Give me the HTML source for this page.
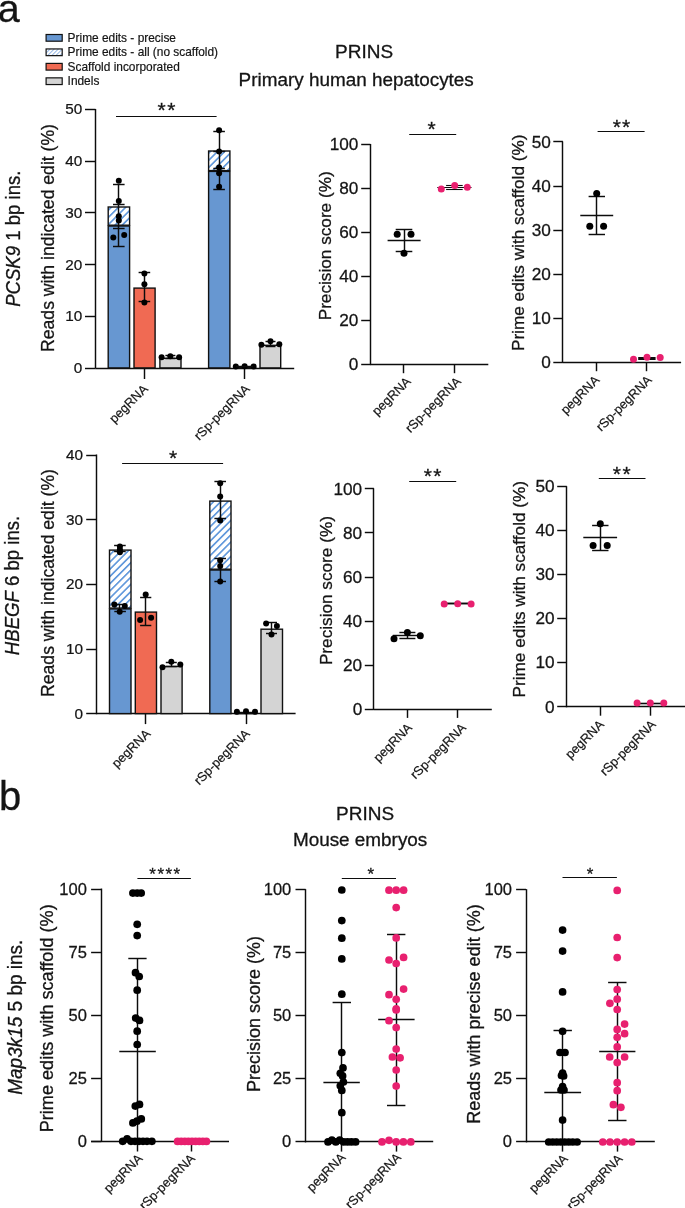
<!DOCTYPE html>
<html><head><meta charset="utf-8"><title>PRINS figure</title>
<style>
html,body{margin:0;padding:0;background:#fff;}
body{width:685px;height:1208px;overflow:hidden;font-family:"Liberation Sans", sans-serif;}
svg{display:block;}
</style></head><body>
<svg width="685" height="1208" viewBox="0 0 685 1208" font-family='"Liberation Sans", sans-serif' fill="#141414">
<defs><pattern id="hatch" patternUnits="userSpaceOnUse" width="5.1" height="5.1" patternTransform="rotate(45)"><rect width="5.1" height="5.1" fill="#fff"/><rect x="0" y="0" width="1.65" height="5.1" fill="#5f97db"/></pattern><pattern id="hatch2" patternUnits="userSpaceOnUse" width="2.9" height="2.9" patternTransform="rotate(45)"><rect width="2.9" height="2.9" fill="#fff"/><rect x="0" y="0" width="0.9" height="2.9" fill="#8db3e6"/></pattern></defs>
<rect width="685" height="1208" fill="#fff"/>
<rect x="46.1" y="34.5" width="16.1" height="6.7" fill="#6797d1" stroke="#111" stroke-width="1.2"/>
<rect x="46.1" y="48.95" width="16.1" height="6.7" fill="url(#hatch2)" stroke="#111" stroke-width="1.2"/>
<rect x="46.1" y="63.4" width="16.1" height="6.7" fill="#f06a53" stroke="#111" stroke-width="1.2"/>
<rect x="46.1" y="77.85" width="16.1" height="6.7" fill="#d4d4d4" stroke="#111" stroke-width="1.2"/>
<line x1="95.5" y1="108.9" x2="95.5" y2="368.5" stroke="#0c0c0c" stroke-width="1.45"/>
<line x1="85" y1="368.5" x2="95.5" y2="368.5" stroke="#0c0c0c" stroke-width="1.45"/>
<line x1="85" y1="316.5" x2="95.5" y2="316.5" stroke="#0c0c0c" stroke-width="1.45"/>
<line x1="85" y1="264.5" x2="95.5" y2="264.5" stroke="#0c0c0c" stroke-width="1.45"/>
<line x1="85" y1="212.5" x2="95.5" y2="212.5" stroke="#0c0c0c" stroke-width="1.45"/>
<line x1="85" y1="161.5" x2="95.5" y2="161.5" stroke="#0c0c0c" stroke-width="1.45"/>
<line x1="85" y1="109.5" x2="95.5" y2="109.5" stroke="#0c0c0c" stroke-width="1.45"/>
<line x1="95.5" y1="368.5" x2="294.2" y2="368.5" stroke="#0c0c0c" stroke-width="1.45"/>
<line x1="144.5" y1="368" x2="144.5" y2="379" stroke="#0c0c0c" stroke-width="1.45"/>
<line x1="244.5" y1="368" x2="244.5" y2="379" stroke="#0c0c0c" stroke-width="1.45"/>
<rect x="108.2" y="226" width="21.4" height="141.9" fill="#6797d1" stroke="#111" stroke-width="1.4"/>
<rect x="134" y="288.1" width="21.1" height="79.8" fill="#f06a53" stroke="#111" stroke-width="1.4"/>
<rect x="159.9" y="358.3" width="21.1" height="9.6" fill="#d4d4d4" stroke="#111" stroke-width="1.4"/>
<rect x="208.6" y="171.4" width="21.3" height="196.5" fill="#6797d1" stroke="#111" stroke-width="1.4"/>
<rect x="234.4" y="367.5" width="21.1" height="0.4" fill="#f06a53" stroke="#111" stroke-width="1.4"/>
<rect x="260" y="345.3" width="20.7" height="22.6" fill="#d4d4d4" stroke="#111" stroke-width="1.4"/>
<rect x="108.2" y="207" width="21.4" height="18.2" fill="url(#hatch)" stroke="#111" stroke-width="1.4"/>
<rect x="208.6" y="151" width="21.3" height="19.6" fill="url(#hatch)" stroke="#111" stroke-width="1.4"/>
<line x1="118.5" y1="184.3" x2="118.5" y2="228" stroke="#0c0c0c" stroke-width="1.45"/>
<line x1="113" y1="184.5" x2="124.6" y2="184.5" stroke="#0c0c0c" stroke-width="1.45"/>
<line x1="113" y1="228.5" x2="124.6" y2="228.5" stroke="#0c0c0c" stroke-width="1.45"/>
<line x1="113" y1="204.5" x2="124.6" y2="204.5" stroke="#0c0c0c" stroke-width="1.45"/>
<line x1="113" y1="246.5" x2="124.6" y2="246.5" stroke="#0c0c0c" stroke-width="1.45"/>
<line x1="118.5" y1="228" x2="118.5" y2="246.2" stroke="#0c0c0c" stroke-width="1.45"/>
<circle cx="118.8" cy="180.7" r="3" fill="#000000"/>
<circle cx="118.8" cy="201" r="3" fill="#000000"/>
<circle cx="118.8" cy="216.3" r="3" fill="#000000"/>
<circle cx="118.8" cy="220.6" r="3" fill="#000000"/>
<circle cx="113.3" cy="237.4" r="3" fill="#000000"/>
<circle cx="124.2" cy="235.1" r="3" fill="#000000"/>
<line x1="144.5" y1="272.6" x2="144.5" y2="301.2" stroke="#0c0c0c" stroke-width="1.45"/>
<line x1="138.6" y1="272.5" x2="150.2" y2="272.5" stroke="#0c0c0c" stroke-width="1.45"/>
<line x1="138.6" y1="301.5" x2="150.2" y2="301.5" stroke="#0c0c0c" stroke-width="1.45"/>
<circle cx="144.4" cy="273.4" r="3" fill="#000000"/>
<circle cx="144.4" cy="284.2" r="3" fill="#000000"/>
<circle cx="144.4" cy="302.6" r="3" fill="#000000"/>
<line x1="170.5" y1="355.8" x2="170.5" y2="358.6" stroke="#0c0c0c" stroke-width="1.45"/>
<line x1="165.4" y1="355.5" x2="175.4" y2="355.5" stroke="#0c0c0c" stroke-width="1.45"/>
<line x1="165.4" y1="358.5" x2="175.4" y2="358.5" stroke="#0c0c0c" stroke-width="1.45"/>
<circle cx="161.6" cy="357.3" r="3" fill="#000000"/>
<circle cx="170.3" cy="356.3" r="3" fill="#000000"/>
<circle cx="179.1" cy="357.3" r="3" fill="#000000"/>
<line x1="219.5" y1="131.7" x2="219.5" y2="189" stroke="#0c0c0c" stroke-width="1.45"/>
<line x1="213.3" y1="131.5" x2="224.9" y2="131.5" stroke="#0c0c0c" stroke-width="1.45"/>
<line x1="213.3" y1="189.5" x2="224.9" y2="189.5" stroke="#0c0c0c" stroke-width="1.45"/>
<line x1="213.3" y1="151.5" x2="224.9" y2="151.5" stroke="#0c0c0c" stroke-width="1.45"/>
<line x1="213.3" y1="168.5" x2="224.9" y2="168.5" stroke="#0c0c0c" stroke-width="1.45"/>
<circle cx="219.1" cy="130.2" r="3" fill="#000000"/>
<circle cx="219.1" cy="151.4" r="3" fill="#000000"/>
<circle cx="219.1" cy="167.4" r="3" fill="#000000"/>
<circle cx="219.1" cy="173.3" r="3" fill="#000000"/>
<circle cx="219.1" cy="186.8" r="3" fill="#000000"/>
<circle cx="235.8" cy="366.4" r="3" fill="#000000"/>
<circle cx="244.6" cy="366.2" r="3" fill="#000000"/>
<circle cx="253.6" cy="366.4" r="3" fill="#000000"/>
<line x1="236" y1="366.5" x2="253" y2="366.5" stroke="#0c0c0c" stroke-width="1.45"/>
<line x1="270.5" y1="341.3" x2="270.5" y2="346" stroke="#0c0c0c" stroke-width="1.45"/>
<line x1="265.5" y1="341.5" x2="275.5" y2="341.5" stroke="#0c0c0c" stroke-width="1.45"/>
<line x1="265.5" y1="346.5" x2="275.5" y2="346.5" stroke="#0c0c0c" stroke-width="1.45"/>
<circle cx="261.4" cy="344.7" r="3" fill="#000000"/>
<circle cx="270.5" cy="341.3" r="3" fill="#000000"/>
<circle cx="279.3" cy="344.3" r="3" fill="#000000"/>
<line x1="116" y1="116.5" x2="216.6" y2="116.5" stroke="#0c0c0c" stroke-width="1.2"/>
<line x1="96.5" y1="454.52" x2="96.5" y2="714.2" stroke="#0c0c0c" stroke-width="1.45"/>
<line x1="86.2" y1="713.5" x2="96.6" y2="713.5" stroke="#0c0c0c" stroke-width="1.45"/>
<line x1="86.2" y1="649.5" x2="96.6" y2="649.5" stroke="#0c0c0c" stroke-width="1.45"/>
<line x1="86.2" y1="584.5" x2="96.6" y2="584.5" stroke="#0c0c0c" stroke-width="1.45"/>
<line x1="86.2" y1="519.5" x2="96.6" y2="519.5" stroke="#0c0c0c" stroke-width="1.45"/>
<line x1="86.2" y1="455.5" x2="96.6" y2="455.5" stroke="#0c0c0c" stroke-width="1.45"/>
<line x1="96.6" y1="713.5" x2="295.6" y2="713.5" stroke="#0c0c0c" stroke-width="1.45"/>
<line x1="145.5" y1="713.7" x2="145.5" y2="724.1" stroke="#0c0c0c" stroke-width="1.45"/>
<line x1="246.5" y1="713.7" x2="246.5" y2="724.1" stroke="#0c0c0c" stroke-width="1.45"/>
<rect x="109.5" y="608.9" width="21.5" height="104.7" fill="#6797d1" stroke="#111" stroke-width="1.4"/>
<rect x="135.3" y="612.1" width="21.2" height="101.5" fill="#f06a53" stroke="#111" stroke-width="1.4"/>
<rect x="161" y="666.5" width="21.1" height="47.1" fill="#d4d4d4" stroke="#111" stroke-width="1.4"/>
<rect x="209.8" y="570" width="21.2" height="143.6" fill="#6797d1" stroke="#111" stroke-width="1.4"/>
<rect x="235.2" y="713.1" width="21.4" height="0.5" fill="#f06a53" stroke="#111" stroke-width="1.4"/>
<rect x="261" y="629.2" width="21.5" height="84.4" fill="#d4d4d4" stroke="#111" stroke-width="1.4"/>
<rect x="109.5" y="550.1" width="21.5" height="58" fill="url(#hatch)" stroke="#111" stroke-width="1.4"/>
<rect x="209.8" y="501.1" width="21.2" height="68.1" fill="url(#hatch)" stroke="#111" stroke-width="1.4"/>
<line x1="119.5" y1="545.4" x2="119.5" y2="551.6" stroke="#0c0c0c" stroke-width="1.45"/>
<line x1="114.1" y1="545.5" x2="125.7" y2="545.5" stroke="#0c0c0c" stroke-width="1.45"/>
<line x1="114.1" y1="551.5" x2="125.7" y2="551.5" stroke="#0c0c0c" stroke-width="1.45"/>
<circle cx="119.9" cy="546.6" r="3" fill="#000000"/>
<circle cx="119.9" cy="549.4" r="3" fill="#000000"/>
<circle cx="119.9" cy="552.2" r="3" fill="#000000"/>
<line x1="119.5" y1="604" x2="119.5" y2="611.1" stroke="#0c0c0c" stroke-width="1.45"/>
<line x1="114.3" y1="611.5" x2="125.9" y2="611.5" stroke="#0c0c0c" stroke-width="1.45"/>
<line x1="114.3" y1="604.5" x2="125.9" y2="604.5" stroke="#0c0c0c" stroke-width="1.45"/>
<circle cx="114.3" cy="604.5" r="3" fill="#000000"/>
<circle cx="124.8" cy="606" r="3" fill="#000000"/>
<circle cx="119.7" cy="611.8" r="3" fill="#000000"/>
<line x1="145.5" y1="597.2" x2="145.5" y2="625" stroke="#0c0c0c" stroke-width="1.45"/>
<line x1="140.1" y1="597.5" x2="151.3" y2="597.5" stroke="#0c0c0c" stroke-width="1.45"/>
<line x1="140.1" y1="625.5" x2="151.3" y2="625.5" stroke="#0c0c0c" stroke-width="1.45"/>
<circle cx="145.7" cy="594.6" r="3" fill="#000000"/>
<circle cx="140.1" cy="620.1" r="3" fill="#000000"/>
<circle cx="151.1" cy="617.7" r="3" fill="#000000"/>
<line x1="171.5" y1="662.5" x2="171.5" y2="666.9" stroke="#0c0c0c" stroke-width="1.45"/>
<line x1="165.8" y1="662.5" x2="176.8" y2="662.5" stroke="#0c0c0c" stroke-width="1.45"/>
<line x1="165.8" y1="666.5" x2="176.8" y2="666.5" stroke="#0c0c0c" stroke-width="1.45"/>
<circle cx="162.5" cy="667.3" r="3" fill="#000000"/>
<circle cx="171.3" cy="661.8" r="3" fill="#000000"/>
<circle cx="180.3" cy="664.4" r="3" fill="#000000"/>
<line x1="220.5" y1="481.2" x2="220.5" y2="518.6" stroke="#0c0c0c" stroke-width="1.45"/>
<line x1="214.4" y1="481.5" x2="226" y2="481.5" stroke="#0c0c0c" stroke-width="1.45"/>
<line x1="214.4" y1="518.5" x2="226" y2="518.5" stroke="#0c0c0c" stroke-width="1.45"/>
<circle cx="220.2" cy="483.2" r="3" fill="#000000"/>
<circle cx="220.2" cy="496.4" r="3" fill="#000000"/>
<circle cx="220.2" cy="520.6" r="3" fill="#000000"/>
<line x1="220.5" y1="558.2" x2="220.5" y2="581" stroke="#0c0c0c" stroke-width="1.45"/>
<line x1="214.4" y1="558.5" x2="226" y2="558.5" stroke="#0c0c0c" stroke-width="1.45"/>
<line x1="214.4" y1="581.5" x2="226" y2="581.5" stroke="#0c0c0c" stroke-width="1.45"/>
<circle cx="220.2" cy="560.3" r="3" fill="#000000"/>
<circle cx="220.2" cy="566.1" r="3" fill="#000000"/>
<circle cx="220.2" cy="581.6" r="3" fill="#000000"/>
<line x1="237" y1="712.5" x2="255" y2="712.5" stroke="#0c0c0c" stroke-width="1.45"/>
<circle cx="236.9" cy="711.7" r="3" fill="#000000"/>
<circle cx="246" cy="711.3" r="3" fill="#000000"/>
<circle cx="255" cy="711.7" r="3" fill="#000000"/>
<line x1="271.5" y1="622.3" x2="271.5" y2="633.9" stroke="#0c0c0c" stroke-width="1.45"/>
<line x1="266" y1="622.5" x2="277" y2="622.5" stroke="#0c0c0c" stroke-width="1.45"/>
<line x1="266" y1="633.5" x2="277" y2="633.5" stroke="#0c0c0c" stroke-width="1.45"/>
<circle cx="266.1" cy="623.4" r="3" fill="#000000"/>
<circle cx="276.9" cy="626" r="3" fill="#000000"/>
<circle cx="271.5" cy="634.6" r="3" fill="#000000"/>
<line x1="122.1" y1="463.5" x2="223.1" y2="463.5" stroke="#0c0c0c" stroke-width="1.2"/>
<line x1="370.5" y1="143.9" x2="370.5" y2="365.1" stroke="#0c0c0c" stroke-width="1.45"/>
<line x1="361.2" y1="364.5" x2="370" y2="364.5" stroke="#0c0c0c" stroke-width="1.45"/>
<line x1="361.2" y1="320.5" x2="370" y2="320.5" stroke="#0c0c0c" stroke-width="1.45"/>
<line x1="361.2" y1="276.5" x2="370" y2="276.5" stroke="#0c0c0c" stroke-width="1.45"/>
<line x1="361.2" y1="232.5" x2="370" y2="232.5" stroke="#0c0c0c" stroke-width="1.45"/>
<line x1="361.2" y1="188.5" x2="370" y2="188.5" stroke="#0c0c0c" stroke-width="1.45"/>
<line x1="361.2" y1="144.5" x2="370" y2="144.5" stroke="#0c0c0c" stroke-width="1.45"/>
<line x1="370" y1="364.5" x2="488.3" y2="364.5" stroke="#0c0c0c" stroke-width="1.45"/>
<line x1="403.5" y1="364.6" x2="403.5" y2="373.2" stroke="#0c0c0c" stroke-width="1.45"/>
<line x1="454.5" y1="364.6" x2="454.5" y2="373.2" stroke="#0c0c0c" stroke-width="1.45"/>
<line x1="387.6" y1="240.5" x2="420.6" y2="240.5" stroke="#0c0c0c" stroke-width="1.45"/>
<line x1="404.5" y1="229.6" x2="404.5" y2="251.8" stroke="#0c0c0c" stroke-width="1.45"/>
<line x1="395.7" y1="229.5" x2="412.3" y2="229.5" stroke="#0c0c0c" stroke-width="1.45"/>
<line x1="395.7" y1="251.5" x2="412.3" y2="251.5" stroke="#0c0c0c" stroke-width="1.45"/>
<circle cx="397.2" cy="234.3" r="3.5" fill="#000000"/>
<circle cx="411" cy="234.3" r="3.5" fill="#000000"/>
<circle cx="404" cy="253.3" r="3.5" fill="#000000"/>
<line x1="437.3" y1="187.5" x2="471.5" y2="187.5" stroke="#0c0c0c" stroke-width="1.1"/>
<line x1="446.1" y1="185.5" x2="462.7" y2="185.5" stroke="#0c0c0c" stroke-width="1.1"/>
<line x1="446.1" y1="189.5" x2="462.7" y2="189.5" stroke="#0c0c0c" stroke-width="1.1"/>
<circle cx="441.3" cy="189" r="3.5" fill="#e8206f"/>
<circle cx="454.7" cy="185.5" r="3.5" fill="#e8206f"/>
<circle cx="467.3" cy="187.3" r="3.5" fill="#e8206f"/>
<line x1="409.2" y1="134.5" x2="456.2" y2="134.5" stroke="#0c0c0c" stroke-width="1.2"/>
<line x1="562.5" y1="141.45" x2="562.5" y2="362.8" stroke="#0c0c0c" stroke-width="1.45"/>
<line x1="553.3" y1="362.5" x2="562.9" y2="362.5" stroke="#0c0c0c" stroke-width="1.45"/>
<line x1="553.3" y1="318.5" x2="562.9" y2="318.5" stroke="#0c0c0c" stroke-width="1.45"/>
<line x1="553.3" y1="274.5" x2="562.9" y2="274.5" stroke="#0c0c0c" stroke-width="1.45"/>
<line x1="553.3" y1="230.5" x2="562.9" y2="230.5" stroke="#0c0c0c" stroke-width="1.45"/>
<line x1="553.3" y1="186.5" x2="562.9" y2="186.5" stroke="#0c0c0c" stroke-width="1.45"/>
<line x1="553.3" y1="141.5" x2="562.9" y2="141.5" stroke="#0c0c0c" stroke-width="1.45"/>
<line x1="562.9" y1="362.5" x2="681.1" y2="362.5" stroke="#0c0c0c" stroke-width="1.45"/>
<line x1="596.5" y1="362.3" x2="596.5" y2="371.2" stroke="#0c0c0c" stroke-width="1.45"/>
<line x1="646.5" y1="362.3" x2="646.5" y2="371.2" stroke="#0c0c0c" stroke-width="1.45"/>
<line x1="580.3" y1="215.5" x2="613.2" y2="215.5" stroke="#0c0c0c" stroke-width="1.45"/>
<line x1="596.5" y1="196.4" x2="596.5" y2="234.4" stroke="#0c0c0c" stroke-width="1.45"/>
<line x1="588.6" y1="196.5" x2="605" y2="196.5" stroke="#0c0c0c" stroke-width="1.45"/>
<line x1="588.6" y1="234.5" x2="605" y2="234.5" stroke="#0c0c0c" stroke-width="1.45"/>
<circle cx="596.7" cy="193.4" r="3.5" fill="#000000"/>
<circle cx="589.8" cy="226.3" r="3.5" fill="#000000"/>
<circle cx="603.6" cy="226.3" r="3.5" fill="#000000"/>
<line x1="638.2" y1="357.5" x2="655.6" y2="357.5" stroke="#0c0c0c" stroke-width="1"/>
<line x1="638.2" y1="358.5" x2="655.6" y2="358.5" stroke="#0c0c0c" stroke-width="1"/>
<line x1="638.2" y1="359.5" x2="655.6" y2="359.5" stroke="#0c0c0c" stroke-width="1"/>
<circle cx="633.5" cy="359.2" r="3.5" fill="#e8206f"/>
<circle cx="647" cy="357.2" r="3.5" fill="#e8206f"/>
<circle cx="660.2" cy="357.5" r="3.5" fill="#e8206f"/>
<line x1="597.6" y1="131.5" x2="644.6" y2="131.5" stroke="#0c0c0c" stroke-width="1.2"/>
<line x1="373.5" y1="488.3" x2="373.5" y2="709.9" stroke="#0c0c0c" stroke-width="1.45"/>
<line x1="364.8" y1="709.5" x2="373.9" y2="709.5" stroke="#0c0c0c" stroke-width="1.45"/>
<line x1="364.8" y1="665.5" x2="373.9" y2="665.5" stroke="#0c0c0c" stroke-width="1.45"/>
<line x1="364.8" y1="621.5" x2="373.9" y2="621.5" stroke="#0c0c0c" stroke-width="1.45"/>
<line x1="364.8" y1="577.5" x2="373.9" y2="577.5" stroke="#0c0c0c" stroke-width="1.45"/>
<line x1="364.8" y1="532.5" x2="373.9" y2="532.5" stroke="#0c0c0c" stroke-width="1.45"/>
<line x1="364.8" y1="488.5" x2="373.9" y2="488.5" stroke="#0c0c0c" stroke-width="1.45"/>
<line x1="373.9" y1="709.5" x2="491.8" y2="709.5" stroke="#0c0c0c" stroke-width="1.45"/>
<line x1="407.5" y1="709.4" x2="407.5" y2="717.9" stroke="#0c0c0c" stroke-width="1.45"/>
<line x1="457.5" y1="709.4" x2="457.5" y2="717.9" stroke="#0c0c0c" stroke-width="1.45"/>
<line x1="392.8" y1="635.5" x2="422.6" y2="635.5" stroke="#0c0c0c" stroke-width="1.45"/>
<line x1="407.5" y1="632.9" x2="407.5" y2="638.2" stroke="#0c0c0c" stroke-width="1.45"/>
<line x1="399.4" y1="632.5" x2="415.4" y2="632.5" stroke="#0c0c0c" stroke-width="1.45"/>
<line x1="399.4" y1="638.5" x2="415.4" y2="638.5" stroke="#0c0c0c" stroke-width="1.45"/>
<circle cx="394" cy="638.8" r="3.5" fill="#000000"/>
<circle cx="407.4" cy="632.6" r="3.5" fill="#000000"/>
<circle cx="420.3" cy="635.8" r="3.5" fill="#000000"/>
<line x1="446" y1="603.5" x2="469" y2="603.5" stroke="#0c0c0c" stroke-width="1.9"/>
<circle cx="444.2" cy="604" r="3.5" fill="#e8206f"/>
<circle cx="457.7" cy="603.8" r="3.5" fill="#e8206f"/>
<circle cx="471.1" cy="604" r="3.5" fill="#e8206f"/>
<line x1="409.2" y1="481.5" x2="456.2" y2="481.5" stroke="#0c0c0c" stroke-width="1.2"/>
<line x1="566.5" y1="486.2" x2="566.5" y2="707.3" stroke="#0c0c0c" stroke-width="1.45"/>
<line x1="557.2" y1="706.5" x2="566.8" y2="706.5" stroke="#0c0c0c" stroke-width="1.45"/>
<line x1="557.2" y1="662.5" x2="566.8" y2="662.5" stroke="#0c0c0c" stroke-width="1.45"/>
<line x1="557.2" y1="618.5" x2="566.8" y2="618.5" stroke="#0c0c0c" stroke-width="1.45"/>
<line x1="557.2" y1="574.5" x2="566.8" y2="574.5" stroke="#0c0c0c" stroke-width="1.45"/>
<line x1="557.2" y1="530.5" x2="566.8" y2="530.5" stroke="#0c0c0c" stroke-width="1.45"/>
<line x1="557.2" y1="486.5" x2="566.8" y2="486.5" stroke="#0c0c0c" stroke-width="1.45"/>
<line x1="566.8" y1="706.5" x2="686" y2="706.5" stroke="#0c0c0c" stroke-width="1.45"/>
<line x1="600.5" y1="706.8" x2="600.5" y2="715.7" stroke="#0c0c0c" stroke-width="1.45"/>
<line x1="650.5" y1="706.8" x2="650.5" y2="715.7" stroke="#0c0c0c" stroke-width="1.45"/>
<line x1="583.3" y1="537.5" x2="617.1" y2="537.5" stroke="#0c0c0c" stroke-width="1.45"/>
<line x1="600.5" y1="525.9" x2="600.5" y2="550.7" stroke="#0c0c0c" stroke-width="1.45"/>
<line x1="592.1" y1="525.5" x2="608.5" y2="525.5" stroke="#0c0c0c" stroke-width="1.45"/>
<line x1="592.1" y1="550.5" x2="608.5" y2="550.5" stroke="#0c0c0c" stroke-width="1.45"/>
<circle cx="600.3" cy="523.8" r="3.5" fill="#000000"/>
<circle cx="593.1" cy="545.4" r="3.5" fill="#000000"/>
<circle cx="607.2" cy="545.4" r="3.5" fill="#000000"/>
<line x1="640" y1="703.5" x2="661" y2="703.5" stroke="#0c0c0c" stroke-width="1.6"/>
<circle cx="637.1" cy="703.1" r="3.5" fill="#e8206f"/>
<circle cx="650.3" cy="703" r="3.5" fill="#e8206f"/>
<circle cx="663.8" cy="703.1" r="3.5" fill="#e8206f"/>
<line x1="598.8" y1="478.5" x2="645.5" y2="478.5" stroke="#0c0c0c" stroke-width="1.2"/>
<line x1="101.5" y1="888.55" x2="101.5" y2="1142" stroke="#0c0c0c" stroke-width="1.45"/>
<line x1="91.1" y1="1141.5" x2="101.4" y2="1141.5" stroke="#0c0c0c" stroke-width="1.45"/>
<line x1="91.1" y1="1078.5" x2="101.4" y2="1078.5" stroke="#0c0c0c" stroke-width="1.45"/>
<line x1="91.1" y1="1015.5" x2="101.4" y2="1015.5" stroke="#0c0c0c" stroke-width="1.45"/>
<line x1="91.1" y1="952.5" x2="101.4" y2="952.5" stroke="#0c0c0c" stroke-width="1.45"/>
<line x1="91.1" y1="889.5" x2="101.4" y2="889.5" stroke="#0c0c0c" stroke-width="1.45"/>
<line x1="101.4" y1="1141.5" x2="229" y2="1141.5" stroke="#0c0c0c" stroke-width="1.45"/>
<line x1="137.5" y1="1141.5" x2="137.5" y2="1151.5" stroke="#0c0c0c" stroke-width="1.45"/>
<line x1="191.5" y1="1141.5" x2="191.5" y2="1151.5" stroke="#0c0c0c" stroke-width="1.45"/>
<line x1="137.5" y1="958.8" x2="137.5" y2="1141.5" stroke="#0c0c0c" stroke-width="1.45"/>
<line x1="128.3" y1="958.5" x2="146.6" y2="958.5" stroke="#0c0c0c" stroke-width="1.45"/>
<line x1="119.3" y1="1051.5" x2="155.8" y2="1051.5" stroke="#0c0c0c" stroke-width="1.45"/>
<circle cx="132.9" cy="893.1" r="3.85" fill="#000000"/>
<circle cx="137.2" cy="893.1" r="3.85" fill="#000000"/>
<circle cx="141.2" cy="893.1" r="3.85" fill="#000000"/>
<circle cx="137.2" cy="924.3" r="3.85" fill="#000000"/>
<circle cx="137.2" cy="935.6" r="3.85" fill="#000000"/>
<circle cx="135.5" cy="972.7" r="3.85" fill="#000000"/>
<circle cx="139.2" cy="976.5" r="3.85" fill="#000000"/>
<circle cx="137.2" cy="990.2" r="3.85" fill="#000000"/>
<circle cx="135.7" cy="1018.1" r="3.85" fill="#000000"/>
<circle cx="139.5" cy="1020.4" r="3.85" fill="#000000"/>
<circle cx="137.2" cy="1031.2" r="3.85" fill="#000000"/>
<circle cx="137.2" cy="1044.5" r="3.85" fill="#000000"/>
<circle cx="139.5" cy="1104.4" r="3.85" fill="#000000"/>
<circle cx="135.3" cy="1106.1" r="3.85" fill="#000000"/>
<circle cx="141.3" cy="1118.9" r="3.85" fill="#000000"/>
<circle cx="136.9" cy="1121.2" r="3.85" fill="#000000"/>
<circle cx="132.9" cy="1122.9" r="3.85" fill="#000000"/>
<circle cx="122.7" cy="1141.3" r="3.85" fill="#000000"/>
<circle cx="127.1" cy="1138.9" r="3.85" fill="#000000"/>
<circle cx="131" cy="1141.3" r="3.85" fill="#000000"/>
<circle cx="135" cy="1141.3" r="3.85" fill="#000000"/>
<circle cx="139" cy="1141.3" r="3.85" fill="#000000"/>
<circle cx="143" cy="1141.3" r="3.85" fill="#000000"/>
<circle cx="147" cy="1141.3" r="3.85" fill="#000000"/>
<circle cx="151.9" cy="1141.3" r="3.85" fill="#000000"/>
<circle cx="177.6" cy="1141.4" r="3.85" fill="#e8206f"/>
<circle cx="181.2" cy="1141.4" r="3.85" fill="#e8206f"/>
<circle cx="184.8" cy="1141.4" r="3.85" fill="#e8206f"/>
<circle cx="188.4" cy="1141.4" r="3.85" fill="#e8206f"/>
<circle cx="192" cy="1141.4" r="3.85" fill="#e8206f"/>
<circle cx="195.6" cy="1141.4" r="3.85" fill="#e8206f"/>
<circle cx="199.2" cy="1141.4" r="3.85" fill="#e8206f"/>
<circle cx="202.8" cy="1141.4" r="3.85" fill="#e8206f"/>
<circle cx="206.4" cy="1141.4" r="3.85" fill="#e8206f"/>
<line x1="137.4" y1="878.5" x2="190.9" y2="878.5" stroke="#0c0c0c" stroke-width="1.2"/>
<line x1="91.1" y1="1141.5" x2="101.4" y2="1141.5" stroke="#0c0c0c" stroke-width="1.45"/>
<line x1="305.5" y1="889.15" x2="305.5" y2="1142.4" stroke="#0c0c0c" stroke-width="1.45"/>
<line x1="295.5" y1="1141.5" x2="305.6" y2="1141.5" stroke="#0c0c0c" stroke-width="1.45"/>
<line x1="295.5" y1="1078.5" x2="305.6" y2="1078.5" stroke="#0c0c0c" stroke-width="1.45"/>
<line x1="295.5" y1="1015.5" x2="305.6" y2="1015.5" stroke="#0c0c0c" stroke-width="1.45"/>
<line x1="295.5" y1="952.5" x2="305.6" y2="952.5" stroke="#0c0c0c" stroke-width="1.45"/>
<line x1="295.5" y1="889.5" x2="305.6" y2="889.5" stroke="#0c0c0c" stroke-width="1.45"/>
<line x1="305.6" y1="1141.5" x2="433.2" y2="1141.5" stroke="#0c0c0c" stroke-width="1.45"/>
<line x1="341.5" y1="1141.9" x2="341.5" y2="1151.6" stroke="#0c0c0c" stroke-width="1.45"/>
<line x1="396.5" y1="1141.9" x2="396.5" y2="1151.6" stroke="#0c0c0c" stroke-width="1.45"/>
<line x1="341.5" y1="1002.3" x2="341.5" y2="1141.9" stroke="#0c0c0c" stroke-width="1.45"/>
<line x1="332.6" y1="1002.5" x2="351" y2="1002.5" stroke="#0c0c0c" stroke-width="1.45"/>
<line x1="323.4" y1="1082.5" x2="359.8" y2="1082.5" stroke="#0c0c0c" stroke-width="1.45"/>
<circle cx="341.8" cy="890" r="3.85" fill="#000000"/>
<circle cx="341.8" cy="920.6" r="3.85" fill="#000000"/>
<circle cx="341.8" cy="938.2" r="3.85" fill="#000000"/>
<circle cx="341.8" cy="958.9" r="3.85" fill="#000000"/>
<circle cx="341.8" cy="994.2" r="3.85" fill="#000000"/>
<circle cx="341.8" cy="1052.6" r="3.85" fill="#000000"/>
<circle cx="343" cy="1067.9" r="3.85" fill="#000000"/>
<circle cx="340.3" cy="1073.3" r="3.85" fill="#000000"/>
<circle cx="342.6" cy="1075.9" r="3.85" fill="#000000"/>
<circle cx="343.4" cy="1082" r="3.85" fill="#000000"/>
<circle cx="340.3" cy="1085.8" r="3.85" fill="#000000"/>
<circle cx="341.8" cy="1090.4" r="3.85" fill="#000000"/>
<circle cx="341.8" cy="1112.7" r="3.85" fill="#000000"/>
<circle cx="328" cy="1141.9" r="3.85" fill="#000000"/>
<circle cx="331.9" cy="1140.1" r="3.85" fill="#000000"/>
<circle cx="335.8" cy="1141.9" r="3.85" fill="#000000"/>
<circle cx="339.7" cy="1140.1" r="3.85" fill="#000000"/>
<circle cx="343.6" cy="1141.9" r="3.85" fill="#000000"/>
<circle cx="347.5" cy="1141.9" r="3.85" fill="#000000"/>
<circle cx="351.4" cy="1141.9" r="3.85" fill="#000000"/>
<circle cx="355.6" cy="1141.9" r="3.85" fill="#000000"/>
<line x1="396.5" y1="934" x2="396.5" y2="1105" stroke="#0c0c0c" stroke-width="1.45"/>
<line x1="387" y1="934.5" x2="405.4" y2="934.5" stroke="#0c0c0c" stroke-width="1.45"/>
<line x1="387" y1="1105.5" x2="405.4" y2="1105.5" stroke="#0c0c0c" stroke-width="1.45"/>
<line x1="378.2" y1="1019.5" x2="414.6" y2="1019.5" stroke="#0c0c0c" stroke-width="1.45"/>
<circle cx="389" cy="890.2" r="3.85" fill="#e8206f"/>
<circle cx="396.2" cy="890.2" r="3.85" fill="#e8206f"/>
<circle cx="403.6" cy="890.2" r="3.85" fill="#e8206f"/>
<circle cx="396.2" cy="907.6" r="3.85" fill="#e8206f"/>
<circle cx="396.2" cy="937.9" r="3.85" fill="#e8206f"/>
<circle cx="389" cy="960" r="3.85" fill="#e8206f"/>
<circle cx="403.6" cy="957.4" r="3.85" fill="#e8206f"/>
<circle cx="396.2" cy="963.5" r="3.85" fill="#e8206f"/>
<circle cx="403.6" cy="989.1" r="3.85" fill="#e8206f"/>
<circle cx="389" cy="994.7" r="3.85" fill="#e8206f"/>
<circle cx="396.2" cy="999.3" r="3.85" fill="#e8206f"/>
<circle cx="396.2" cy="1008.8" r="3.85" fill="#e8206f"/>
<circle cx="396.2" cy="1010" r="3.85" fill="#e8206f"/>
<circle cx="389" cy="1020.7" r="3.85" fill="#e8206f"/>
<circle cx="396.2" cy="1027.6" r="3.85" fill="#e8206f"/>
<circle cx="396.2" cy="1049" r="3.85" fill="#e8206f"/>
<circle cx="392.4" cy="1057" r="3.85" fill="#e8206f"/>
<circle cx="400.1" cy="1057.8" r="3.85" fill="#e8206f"/>
<circle cx="396.2" cy="1070" r="3.85" fill="#e8206f"/>
<circle cx="396.2" cy="1086.1" r="3.85" fill="#e8206f"/>
<circle cx="382" cy="1141.9" r="3.85" fill="#e8206f"/>
<circle cx="389" cy="1140.3" r="3.85" fill="#e8206f"/>
<circle cx="396.2" cy="1141.9" r="3.85" fill="#e8206f"/>
<circle cx="403.4" cy="1141.9" r="3.85" fill="#e8206f"/>
<circle cx="410.8" cy="1141.9" r="3.85" fill="#e8206f"/>
<line x1="341.8" y1="878.5" x2="396" y2="878.5" stroke="#0c0c0c" stroke-width="1.2"/>
<line x1="526.5" y1="889.15" x2="526.5" y2="1142.4" stroke="#0c0c0c" stroke-width="1.45"/>
<line x1="516.1" y1="1141.5" x2="526.1" y2="1141.5" stroke="#0c0c0c" stroke-width="1.45"/>
<line x1="516.1" y1="1078.5" x2="526.1" y2="1078.5" stroke="#0c0c0c" stroke-width="1.45"/>
<line x1="516.1" y1="1015.5" x2="526.1" y2="1015.5" stroke="#0c0c0c" stroke-width="1.45"/>
<line x1="516.1" y1="952.5" x2="526.1" y2="952.5" stroke="#0c0c0c" stroke-width="1.45"/>
<line x1="516.1" y1="889.5" x2="526.1" y2="889.5" stroke="#0c0c0c" stroke-width="1.45"/>
<line x1="526.1" y1="1141.5" x2="654.8" y2="1141.5" stroke="#0c0c0c" stroke-width="1.45"/>
<line x1="562.5" y1="1141.9" x2="562.5" y2="1151.6" stroke="#0c0c0c" stroke-width="1.45"/>
<line x1="617.5" y1="1141.9" x2="617.5" y2="1151.6" stroke="#0c0c0c" stroke-width="1.45"/>
<line x1="562.5" y1="1030.1" x2="562.5" y2="1141.9" stroke="#0c0c0c" stroke-width="1.45"/>
<line x1="553.5" y1="1030.5" x2="571.9" y2="1030.5" stroke="#0c0c0c" stroke-width="1.45"/>
<line x1="544.3" y1="1092.5" x2="581.1" y2="1092.5" stroke="#0c0c0c" stroke-width="1.45"/>
<circle cx="562.6" cy="930.1" r="3.85" fill="#000000"/>
<circle cx="562.6" cy="951.1" r="3.85" fill="#000000"/>
<circle cx="562.6" cy="991.9" r="3.85" fill="#000000"/>
<circle cx="562.6" cy="1031.3" r="3.85" fill="#000000"/>
<circle cx="560" cy="1052.5" r="3.85" fill="#000000"/>
<circle cx="565" cy="1052.5" r="3.85" fill="#000000"/>
<circle cx="562.6" cy="1073" r="3.85" fill="#000000"/>
<circle cx="561.5" cy="1075.5" r="3.85" fill="#000000"/>
<circle cx="563.6" cy="1076" r="3.85" fill="#000000"/>
<circle cx="562.6" cy="1086.7" r="3.85" fill="#000000"/>
<circle cx="561" cy="1090" r="3.85" fill="#000000"/>
<circle cx="564" cy="1090" r="3.85" fill="#000000"/>
<circle cx="562.6" cy="1120.1" r="3.85" fill="#000000"/>
<circle cx="548.7" cy="1142" r="3.85" fill="#000000"/>
<circle cx="552.7" cy="1142" r="3.85" fill="#000000"/>
<circle cx="556.7" cy="1142" r="3.85" fill="#000000"/>
<circle cx="560.7" cy="1142" r="3.85" fill="#000000"/>
<circle cx="564.7" cy="1142" r="3.85" fill="#000000"/>
<circle cx="568.7" cy="1142" r="3.85" fill="#000000"/>
<circle cx="572.7" cy="1142" r="3.85" fill="#000000"/>
<circle cx="577.1" cy="1142" r="3.85" fill="#000000"/>
<line x1="617.5" y1="982" x2="617.5" y2="1120.4" stroke="#0c0c0c" stroke-width="1.45"/>
<line x1="608.1" y1="982.5" x2="626.5" y2="982.5" stroke="#0c0c0c" stroke-width="1.45"/>
<line x1="608.1" y1="1120.5" x2="626.5" y2="1120.5" stroke="#0c0c0c" stroke-width="1.45"/>
<line x1="599.2" y1="1051.5" x2="635.4" y2="1051.5" stroke="#0c0c0c" stroke-width="1.45"/>
<circle cx="617.2" cy="890.4" r="3.85" fill="#e8206f"/>
<circle cx="617.2" cy="937.5" r="3.85" fill="#e8206f"/>
<circle cx="617.2" cy="957.6" r="3.85" fill="#e8206f"/>
<circle cx="617.2" cy="989.5" r="3.85" fill="#e8206f"/>
<circle cx="617.2" cy="999.2" r="3.85" fill="#e8206f"/>
<circle cx="609.9" cy="1003.3" r="3.85" fill="#e8206f"/>
<circle cx="617.2" cy="1009.5" r="3.85" fill="#e8206f"/>
<circle cx="624.6" cy="1024.1" r="3.85" fill="#e8206f"/>
<circle cx="617.2" cy="1029.4" r="3.85" fill="#e8206f"/>
<circle cx="624.6" cy="1033.7" r="3.85" fill="#e8206f"/>
<circle cx="617.2" cy="1037.3" r="3.85" fill="#e8206f"/>
<circle cx="617.2" cy="1046.9" r="3.85" fill="#e8206f"/>
<circle cx="609.7" cy="1057" r="3.85" fill="#e8206f"/>
<circle cx="624.6" cy="1057" r="3.85" fill="#e8206f"/>
<circle cx="617.2" cy="1062.6" r="3.85" fill="#e8206f"/>
<circle cx="617.2" cy="1082.7" r="3.85" fill="#e8206f"/>
<circle cx="617.2" cy="1090.7" r="3.85" fill="#e8206f"/>
<circle cx="613.4" cy="1104.7" r="3.85" fill="#e8206f"/>
<circle cx="620.9" cy="1107.3" r="3.85" fill="#e8206f"/>
<circle cx="602.8" cy="1142" r="3.85" fill="#e8206f"/>
<circle cx="610" cy="1142" r="3.85" fill="#e8206f"/>
<circle cx="617.2" cy="1142" r="3.85" fill="#e8206f"/>
<circle cx="624.6" cy="1142" r="3.85" fill="#e8206f"/>
<circle cx="631.8" cy="1142" r="3.85" fill="#e8206f"/>
<line x1="562.5" y1="877.5" x2="616.9" y2="877.5" stroke="#0c0c0c" stroke-width="1.2"/>
<g style="filter:grayscale(1)" stroke="#141414" stroke-width="0.3"><text x="-2.3" y="21.6" font-size="39.5" text-anchor="start" stroke-width="0.3">a</text><text x="-1.1" y="809.6" font-size="40" text-anchor="start" stroke-width="0.3">b</text><text x="67.6" y="41.6" font-size="11.9" text-anchor="start" stroke-width="0.19">Prime edits - precise</text><text x="67.6" y="56.05" font-size="11.9" text-anchor="start" stroke-width="0.19">Prime edits - all (no scaffold)</text><text x="67.6" y="70.5" font-size="11.9" text-anchor="start" stroke-width="0.19">Scaffold incorporated</text><text x="67.6" y="84.95" font-size="11.9" text-anchor="start" stroke-width="0.19">Indels</text><text x="364.1" y="58.3" font-size="19" text-anchor="middle" stroke-width="0.3">PRINS</text><text x="356.2" y="85.5" font-size="18.9" text-anchor="middle" stroke-width="0.3">Primary human hepatocytes</text><text x="365.1" y="819.5" font-size="19" text-anchor="middle" stroke-width="0.3">PRINS</text><text x="360.1" y="846.4" font-size="18.9" text-anchor="middle" stroke-width="0.3">Mouse embryos</text><text x="82.2" y="373.03" font-size="15.3" text-anchor="end" stroke-width="0.24">0</text><text x="82.2" y="321.31" font-size="15.3" text-anchor="end" stroke-width="0.24">10</text><text x="82.2" y="269.59" font-size="15.3" text-anchor="end" stroke-width="0.24">20</text><text x="82.2" y="217.87" font-size="15.3" text-anchor="end" stroke-width="0.24">30</text><text x="82.2" y="166.15" font-size="15.3" text-anchor="end" stroke-width="0.24">40</text><text x="82.2" y="114.43" font-size="15.3" text-anchor="end" stroke-width="0.24">50</text><text x="157.58" y="117.34" font-size="21" text-anchor="start" stroke-width="0.3">*</text><text x="167.18" y="117.34" font-size="21" text-anchor="start" stroke-width="0.3">*</text><text x="53.6" y="238" font-size="17.6" text-anchor="middle" stroke-width="0.28" transform="rotate(-90 53.6 238)">Reads with indicated edit (%)</text><text x="0" y="0" font-size="20.2" text-anchor="middle" transform="translate(20.3 238.7) rotate(-90) scale(0.92 1)"><tspan font-style="italic">PCSK9</tspan> 1 bp ins.</text><text x="148.7" y="389.6" font-size="12.8" text-anchor="end" stroke-width="0.2" transform="rotate(-45 148.7 389.6)">pegRNA</text><text x="250.5" y="389.6" font-size="12.8" text-anchor="end" stroke-width="0.2" transform="rotate(-45 250.5 389.6)">rSp-pegRNA</text><text x="83" y="718.73" font-size="15.3" text-anchor="end" stroke-width="0.24">0</text><text x="83" y="654.06" font-size="15.3" text-anchor="end" stroke-width="0.24">10</text><text x="83" y="589.39" font-size="15.3" text-anchor="end" stroke-width="0.24">20</text><text x="83" y="524.72" font-size="15.3" text-anchor="end" stroke-width="0.24">30</text><text x="83" y="460.05" font-size="15.3" text-anchor="end" stroke-width="0.24">40</text><text x="168.98" y="465.35" font-size="21" text-anchor="start" stroke-width="0.3">*</text><text x="53.6" y="583" font-size="17.6" text-anchor="middle" stroke-width="0.28" transform="rotate(-90 53.6 583)">Reads with indicated edit (%)</text><text x="0" y="0" font-size="20.2" text-anchor="middle" transform="translate(19.2 585.5) rotate(-90) scale(0.92 1)"><tspan font-style="italic">HBEGF</tspan> 6 bp ins.</text><text x="151.2" y="734.4" font-size="12.8" text-anchor="end" stroke-width="0.2" transform="rotate(-45 151.2 734.4)">pegRNA</text><text x="250.5" y="734.4" font-size="12.8" text-anchor="end" stroke-width="0.2" transform="rotate(-45 250.5 734.4)">rSp-pegRNA</text><text x="358.4" y="370.31" font-size="17.2" text-anchor="end" stroke-width="0.28">0</text><text x="358.4" y="326.27" font-size="17.2" text-anchor="end" stroke-width="0.28">20</text><text x="358.4" y="282.23" font-size="17.2" text-anchor="end" stroke-width="0.28">40</text><text x="358.4" y="238.19" font-size="17.2" text-anchor="end" stroke-width="0.28">60</text><text x="358.4" y="194.15" font-size="17.2" text-anchor="end" stroke-width="0.28">80</text><text x="358.4" y="150.11" font-size="17.2" text-anchor="end" stroke-width="0.28">100</text><text x="427.48" y="135.55" font-size="21" text-anchor="start" stroke-width="0.3">*</text><text x="331.2" y="245.8" font-size="17.2" text-anchor="middle" stroke-width="0.28" transform="rotate(-90 331.2 245.8)">Precision score (%)</text><text x="411.5" y="382.1" font-size="12.8" text-anchor="end" stroke-width="0.2" transform="rotate(-45 411.5 382.1)">pegRNA</text><text x="461.7" y="382.1" font-size="12.8" text-anchor="end" stroke-width="0.2" transform="rotate(-45 461.7 382.1)">rSp-pegRNA</text><text x="550.8" y="368.01" font-size="17.2" text-anchor="end" stroke-width="0.28">0</text><text x="550.8" y="323.94" font-size="17.2" text-anchor="end" stroke-width="0.28">10</text><text x="550.8" y="279.87" font-size="17.2" text-anchor="end" stroke-width="0.28">20</text><text x="550.8" y="235.8" font-size="17.2" text-anchor="end" stroke-width="0.28">30</text><text x="550.8" y="191.73" font-size="17.2" text-anchor="end" stroke-width="0.28">40</text><text x="550.8" y="147.66" font-size="17.2" text-anchor="end" stroke-width="0.28">50</text><text x="612.78" y="134.15" font-size="21" text-anchor="start" stroke-width="0.3">*</text><text x="621.98" y="134.15" font-size="21" text-anchor="start" stroke-width="0.3">*</text><text x="524.2" y="242.8" font-size="17.2" text-anchor="middle" stroke-width="0.28" transform="rotate(-90 524.2 242.8)">Prime edits with scaffold (%)</text><text x="600.2" y="380.8" font-size="12.8" text-anchor="end" stroke-width="0.2" transform="rotate(-45 600.2 380.8)">pegRNA</text><text x="652.6" y="380.8" font-size="12.8" text-anchor="end" stroke-width="0.2" transform="rotate(-45 652.6 380.8)">rSp-pegRNA</text><text x="362.2" y="715.11" font-size="17.2" text-anchor="end" stroke-width="0.28">0</text><text x="362.2" y="670.99" font-size="17.2" text-anchor="end" stroke-width="0.28">20</text><text x="362.2" y="626.87" font-size="17.2" text-anchor="end" stroke-width="0.28">40</text><text x="362.2" y="582.75" font-size="17.2" text-anchor="end" stroke-width="0.28">60</text><text x="362.2" y="538.63" font-size="17.2" text-anchor="end" stroke-width="0.28">80</text><text x="362.2" y="494.51" font-size="17.2" text-anchor="end" stroke-width="0.28">100</text><text x="423.68" y="482.85" font-size="21" text-anchor="start" stroke-width="0.3">*</text><text x="433.18" y="482.85" font-size="21" text-anchor="start" stroke-width="0.3">*</text><text x="332" y="590.6" font-size="17.2" text-anchor="middle" stroke-width="0.28" transform="rotate(-90 332 590.6)">Precision score (%)</text><text x="412.9" y="728.5" font-size="12.8" text-anchor="end" stroke-width="0.2" transform="rotate(-45 412.9 728.5)">pegRNA</text><text x="466.9" y="728.5" font-size="12.8" text-anchor="end" stroke-width="0.2" transform="rotate(-45 466.9 728.5)">rSp-pegRNA</text><text x="554.6" y="712.51" font-size="17.2" text-anchor="end" stroke-width="0.28">0</text><text x="554.6" y="668.49" font-size="17.2" text-anchor="end" stroke-width="0.28">10</text><text x="554.6" y="624.47" font-size="17.2" text-anchor="end" stroke-width="0.28">20</text><text x="554.6" y="580.45" font-size="17.2" text-anchor="end" stroke-width="0.28">30</text><text x="554.6" y="536.43" font-size="17.2" text-anchor="end" stroke-width="0.28">40</text><text x="554.6" y="492.41" font-size="17.2" text-anchor="end" stroke-width="0.28">50</text><text x="612.78" y="480.75" font-size="21" text-anchor="start" stroke-width="0.3">*</text><text x="622.53" y="480.75" font-size="21" text-anchor="start" stroke-width="0.3">*</text><text x="525" y="589.2" font-size="17.2" text-anchor="middle" stroke-width="0.28" transform="rotate(-90 525 589.2)">Prime edits with scaffold (%)</text><text x="604.7" y="725.3" font-size="12.8" text-anchor="end" stroke-width="0.2" transform="rotate(-45 604.7 725.3)">pegRNA</text><text x="656.5" y="725.3" font-size="12.8" text-anchor="end" stroke-width="0.2" transform="rotate(-45 656.5 725.3)">rSp-pegRNA</text><text x="86.9" y="1146.96" font-size="16.5" text-anchor="end" stroke-width="0.26">0</text><text x="86.9" y="1083.85" font-size="16.5" text-anchor="end" stroke-width="0.26">25</text><text x="86.9" y="1020.73" font-size="16.5" text-anchor="end" stroke-width="0.26">50</text><text x="86.9" y="957.62" font-size="16.5" text-anchor="end" stroke-width="0.26">75</text><text x="86.9" y="894.51" font-size="16.5" text-anchor="end" stroke-width="0.26">100</text><text x="149.36" y="879.87" font-size="17" text-anchor="start" stroke-width="0.27">*</text><text x="157.41" y="879.87" font-size="17" text-anchor="start" stroke-width="0.27">*</text><text x="165.46" y="879.87" font-size="17" text-anchor="start" stroke-width="0.27">*</text><text x="173.51" y="879.87" font-size="17" text-anchor="start" stroke-width="0.27">*</text><text x="53.2" y="1018.3" font-size="18.1" text-anchor="middle" stroke-width="0.29" transform="rotate(-90 53.2 1018.3)">Prime edits with scaffold (%)</text><text x="143.2" y="1159.2" font-size="12.8" text-anchor="end" stroke-width="0.2" transform="rotate(-45 143.2 1159.2)">pegRNA</text><text x="195.8" y="1159.2" font-size="12.8" text-anchor="end" stroke-width="0.2" transform="rotate(-45 195.8 1159.2)">rSp-pegRNA</text><text x="0" y="0" font-size="19.8" text-anchor="middle" transform="translate(22 1017.2) rotate(-90) scale(0.96 1)"><tspan font-style="italic">Map3k15</tspan> 5 bp ins.</text><text x="291.3" y="1147.36" font-size="16.5" text-anchor="end" stroke-width="0.26">0</text><text x="291.3" y="1084.3" font-size="16.5" text-anchor="end" stroke-width="0.26">25</text><text x="291.3" y="1021.23" font-size="16.5" text-anchor="end" stroke-width="0.26">50</text><text x="291.3" y="958.17" font-size="16.5" text-anchor="end" stroke-width="0.26">75</text><text x="291.3" y="895.11" font-size="16.5" text-anchor="end" stroke-width="0.26">100</text><text x="367.56" y="879.87" font-size="17" text-anchor="start" stroke-width="0.27">*</text><text x="260" y="1014" font-size="18" text-anchor="middle" stroke-width="0.29" transform="rotate(-90 260 1014)">Precision score (%)</text><text x="346.2" y="1158.2" font-size="12.8" text-anchor="end" stroke-width="0.2" transform="rotate(-45 346.2 1158.2)">pegRNA</text><text x="401.9" y="1158.2" font-size="12.8" text-anchor="end" stroke-width="0.2" transform="rotate(-45 401.9 1158.2)">rSp-pegRNA</text><text x="512" y="1147.36" font-size="16.5" text-anchor="end" stroke-width="0.26">0</text><text x="512" y="1084.3" font-size="16.5" text-anchor="end" stroke-width="0.26">25</text><text x="512" y="1021.23" font-size="16.5" text-anchor="end" stroke-width="0.26">50</text><text x="512" y="958.17" font-size="16.5" text-anchor="end" stroke-width="0.26">75</text><text x="512" y="895.11" font-size="16.5" text-anchor="end" stroke-width="0.26">100</text><text x="586.66" y="880.37" font-size="17" text-anchor="start" stroke-width="0.27">*</text><text x="480" y="1014" font-size="18.05" text-anchor="middle" stroke-width="0.29" transform="rotate(-90 480 1014)">Reads with precise edit (%)</text><text x="568.5" y="1159.4" font-size="12.8" text-anchor="end" stroke-width="0.2" transform="rotate(-45 568.5 1159.4)">pegRNA</text><text x="623.2" y="1159.4" font-size="12.8" text-anchor="end" stroke-width="0.2" transform="rotate(-45 623.2 1159.4)">rSp-pegRNA</text></g>
</svg>
</body></html>
